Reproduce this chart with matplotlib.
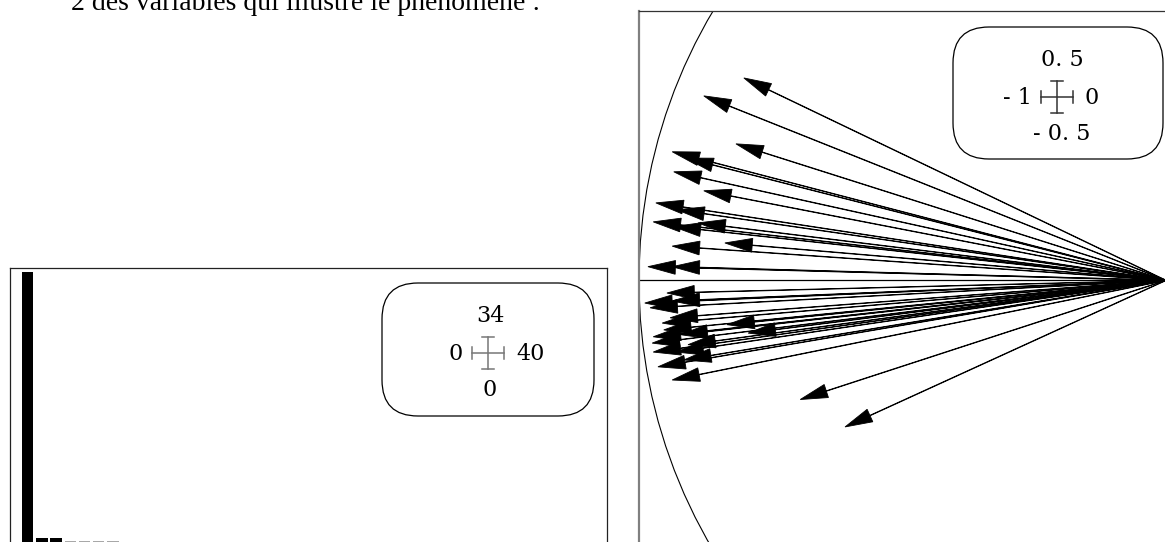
import numpy as np
import matplotlib
matplotlib.use('Agg')
import matplotlib.pyplot as plt
from matplotlib.patches import Circle, FancyBboxPatch
from matplotlib.lines import Line2D

W, H = 1165, 542

# eigenvalues (40 variables, normalised PCA)
eigenvalues = [33.5, 0.98, 0.95, 0.61, 0.60, 0.58, 0.56, 0.50, 0.45, 0.40,
               0.36, 0.32, 0.28, 0.25, 0.22, 0.20, 0.18, 0.16, 0.14, 0.12,
               0.11, 0.10, 0.09, 0.08, 0.07, 0.06, 0.05, 0.05, 0.04, 0.04,
               0.03, 0.03, 0.02, 0.02, 0.02, 0.01, 0.01, 0.01, 0.01, 0.01]
n_kept = 3

# variable coordinates on axes 1 and 2
var_x = [-0.801, -0.877, -0.816, -0.937, -0.911, -0.934, -0.877, -0.968,
         -0.928, -0.973, -0.888, -0.935, -0.937, -0.837, -0.983, -0.937,
         -0.947, -0.989, -0.979, -0.937, -0.956, -0.941, -0.973, -0.975,
         -0.973, -0.964, -0.937, -0.833, -0.793, -0.922, -0.907, -0.930,
         -0.915, -0.953, -0.694, -0.609]
var_y = [0.384, 0.350, 0.259, 0.244, 0.232, 0.206, 0.170, 0.147,
         0.134, 0.111, 0.109, 0.102, 0.065, 0.071, 0.026, 0.026,
         -0.024, -0.043, -0.052, -0.039, -0.081, -0.071, -0.107, -0.119,
         -0.136, -0.164, -0.189, -0.084, -0.100, -0.103, -0.122, -0.136,
         -0.151, -0.094, -0.226, -0.278]

plt.rcParams['font.family'] = 'DejaVu Serif'
fig = plt.figure(figsize=(W / 100, H / 100), dpi=100)


def pix(x, y):
    # page pixel (from top-left) -> inches from bottom-left
    return x / 100, (H - y) / 100


def legend_box(box, labels, cx, cy, tx, col):
    x0, y0, x1, y1 = box
    top, left, right, bottom = labels
    t = fig.dpi_scale_trans
    bx, by = pix(x0, y1)
    fig.add_artist(FancyBboxPatch((bx, by), (x1 - x0) / 100, (y1 - y0) / 100,
                                  boxstyle='round,pad=0,rounding_size=0.36',
                                  transform=t, fill=False, ec='black', lw=0.9))
    # small cross with end caps
    segs = [((cx - 16, cx + 16), (cy, cy)), ((cx, cx), (cy - 16, cy + 16)),
            ((cx - 16, cx - 16), (cy - 6, cy + 6)), ((cx + 16, cx + 16), (cy - 6, cy + 6)),
            ((cx - 6, cx + 6), (cy - 16, cy - 16)), ((cx - 6, cx + 6), (cy + 16, cy + 16))]
    for xs, ys in segs:
        p = [pix(a, b) for a, b in zip(xs, ys)]
        fig.add_artist(Line2D([p[0][0], p[1][0]], [p[0][1], p[1][1]], transform=t,
                              color=col, lw=1.1))
    kw = dict(transform=t, fontsize=16, color='black')
    fig.text(*pix(tx, cy - 37), top, ha='center', va='center', **kw)
    fig.text(*pix(cx - 25, cy + 1), left, ha='right', va='center', **kw)
    fig.text(*pix(cx + 28, cy + 1), right, ha='left', va='center', **kw)
    fig.text(*pix(tx, cy + 37), bottom, ha='center', va='center', **kw)


# running text above the figures (cut by the page crop)
fig.text(71 / W, 1 - 10 / H, '2 des variables qui illustre le phénomène :',
         fontsize=20, family='Liberation Serif', va='baseline', ha='left')

# eigenvalue bar plot
ax1 = fig.add_axes([10 / W, (H - 546) / H, 597 / W, 278 / H])
idx = np.arange(1, len(eigenvalues) + 1)
colors = ['black' if i <= n_kept else '#a8a8a8' for i in idx]
ax1.bar(idx, eigenvalues, width=0.8, color=colors, edgecolor='none')
ax1.set_xlim(-0.25, 41.8)
ax1.set_ylim(0, 34)
ax1.set_xticks([])
ax1.set_yticks([])
for s in ax1.spines.values():
    s.set_linewidth(0.9)
    s.set_color('#222222')

# correlation circle
ax2 = fig.add_axes([639 / W, (H - 554.5) / H, 537.5 / W, 543.5 / H])
ax2.set_xlim(-1.0, 0.02)
ax2.set_ylim(-0.52, 0.511)
ax2.add_patch(Circle((0, 0), 1.0, fill=False, ec='black', lw=0.8))
ax2.axhline(0, color='black', lw=0.9)
for x, y in zip(var_x, var_y):
    ax2.arrow(0, 0, x, y, length_includes_head=True, head_width=0.026,
              head_length=0.052, fc='black', ec='black', lw=0.6)
ax2.set_xticks([])
ax2.set_yticks([])
ax2.spines['left'].set_color('#808080')
ax2.spines['left'].set_linewidth(1.6)
ax2.spines['top'].set_color('#333333')
ax2.spines['top'].set_linewidth(0.9)

legend_box((382, 283, 594, 416), ('34', '0', '40', '0'), 488, 353, 490, '#777777')
legend_box((953, 27, 1163, 159), ('0. 5', '- 1', '0', '- 0. 5'), 1057, 97, 1062, '#333333')

fig.savefig('out.png', dpi=100)
